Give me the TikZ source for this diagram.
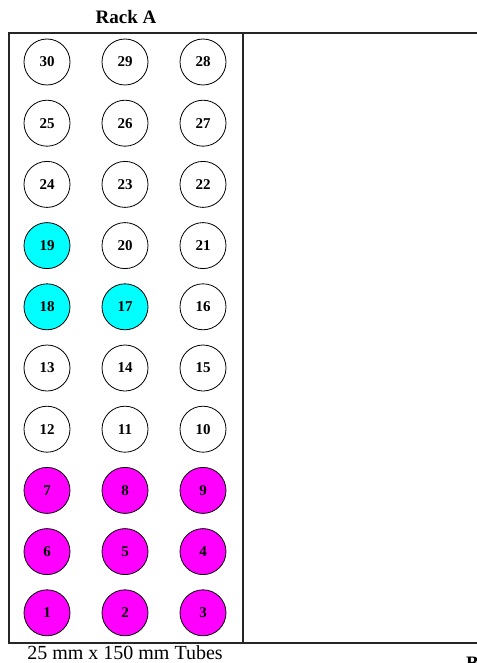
\documentclass[tikz,border=0pt]{standalone}
\usepackage{fontspec}
\setmainfont{Liberation Serif}
\usepackage{tikz}
\usetikzlibrary{positioning}
\definecolor{TubeCyan}{HTML}{00FFFF}
\definecolor{TubeMagenta}{HTML}{FF00FF}
\tikzset{
  tube/.style={circle,draw=black,line width=0.8pt,minimum size=46pt,inner sep=0pt,
               font=\fontsize{15}{15}\selectfont\bfseries},
  rackline/.style={line width=1.4pt,black!85}
}
\begin{document}
\begin{tikzpicture}[x=1pt,y=-1pt]
        \useasboundingbox(0,0)rectangle(476,663);
        \draw[rackline](9,33)rectangle(243,643);
        \draw[rackline](243,33)--(478,33);
        \draw[rackline](243,643)--(478,643);
        \node[font=\fontsize{19}{19}\selectfont\bfseries](title)at(126,17){Rack A};
        \foreach \i/\a/\b/\c/\fa/\fb/\fc in {
            0/30/29/28/white/white/white,
            1/25/26/27/white/white/white,
            2/24/23/22/white/white/white,
            3/19/20/21/TubeCyan/white/white,
            4/18/17/16/TubeCyan/TubeCyan/white,
            5/13/14/15/white/white/white,
            6/12/11/10/white/white/white,
            7/7/8/9/TubeMagenta/TubeMagenta/TubeMagenta,
            8/6/5/4/TubeMagenta/TubeMagenta/TubeMagenta,
            9/1/2/3/TubeMagenta/TubeMagenta/TubeMagenta}{
          \node[tube,fill=\fa](t\a)at(47,62+61.2*\i){\a};
          \node[tube,fill=\fb](t\b)at(125,62+61.2*\i){\b};
          \node[tube,fill=\fc](t\c)at(203,62+61.2*\i){\c};}
        \node[font=\fontsize{20}{20}\selectfont,anchor=base](size)at(125,659){25 mm x 150 mm Tubes};
        \node[font=\fontsize{19}{19}\selectfont\bfseries,anchor=base west,inner sep=0pt](rackB)at(466,669){B};
      \end{tikzpicture}
\end{document}
